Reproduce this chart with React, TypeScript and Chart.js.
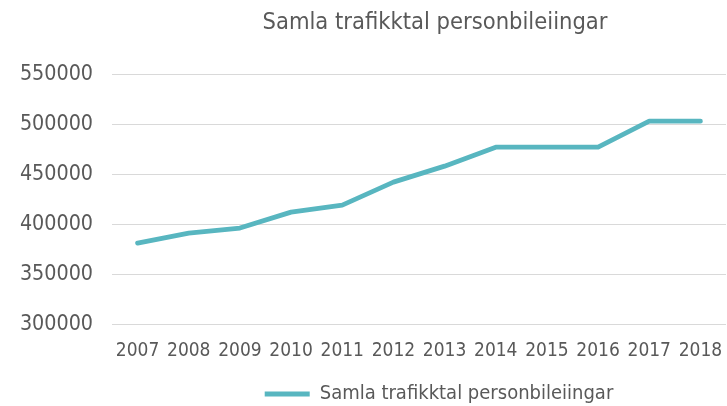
import React, { useEffect, useRef } from "react";
import { Chart, registerables } from "chart.js";

Chart.register(...registerables);

const years = ["2007", "2008", "2009", "2010", "2011", "2012", "2013", "2014", "2015", "2016", "2017", "2018"];
const trafficCounts = [381000, 391000, 396000, 412000, 419000, 442000, 458000, 477000, 477000, 477000, 503000, 503000];
const seriesLabel = "Samla trafikktal personbileiingar";
const chartTitle = "Samla trafikktal personbileiingar";

const FONT = "'DejaVu Sans Condensed', 'Liberation Sans Narrow', 'DejaVu Sans', sans-serif";
const TEXT = "#595959";
const LINE = "#58B6C0";

const shiftPlugin = {
  id: "shiftBoxes",
  afterLayout(chart: any) {
    const t = chart.titleBlock;
    if (t) {
      t.left += 72;
      t.right += 72;
    }
    const l = chart.legend;
    if (l) {
      l.left += 76;
      l.right += 76;
      l.top += 8;
      l.bottom += 8;
    }
  },
};

export default function App() {
  const ref = useRef<HTMLCanvasElement>(null);
  useEffect(() => {
    document.body.style.margin = "0";
    const chart = new Chart(ref.current!, {
      type: "line",
      data: {
        labels: years,
        datasets: [
          {
            label: seriesLabel,
            data: trafficCounts,
            borderColor: LINE,
            backgroundColor: LINE,
            borderWidth: 4.8,
            borderCapStyle: "round",
            borderJoinStyle: "round",
            pointRadius: 0,
            tension: 0,
          },
        ],
      },
      options: {
        responsive: false,
        animation: false,
        layout: { padding: { top: 9, left: 0, right: 1, bottom: 0 } },
        plugins: {
          title: {
            display: true,
            text: chartTitle,
            color: TEXT,
            font: { family: FONT, size: 23.5, weight: "normal" },
            padding: { top: 0, bottom: 37 },
          },
          legend: {
            position: "bottom",
            labels: {
              color: TEXT,
              font: { family: FONT, size: 20 },
              boxWidth: 45,
              boxHeight: 0,
              padding: 3,
              generateLabels: () => [
                {
                  text: seriesLabel,
                  fillStyle: LINE,
                  strokeStyle: LINE,
                  lineWidth: 4.8,
                  lineCap: "round",
                  fontColor: TEXT,
                  datasetIndex: 0,
                  hidden: false,
                },
              ],
            },
          },
          tooltip: { enabled: false },
        },
        scales: {
          x: {
            offset: true,
            grid: { display: false, drawTicks: false },
            border: { display: false },
            ticks: { color: TEXT, font: { family: FONT, size: 19 }, padding: 16, maxRotation: 0, autoSkip: false },
            afterFit: (s: any) => {
              s.paddingLeft = 0;
              s.paddingRight = 0;
              s.height = 49;
            },
          },
          y: {
            min: 300000,
            max: 550000,
            grid: { color: "#d9d9d9", lineWidth: 1, drawTicks: false },
            border: { display: false },
            ticks: {
              stepSize: 50000,
              color: TEXT,
              font: { family: FONT, size: 21.3 },
              padding: 19,
              callback: (v: any) => String(v),
            },
            afterFit: (s: any) => {
              s.width = 112;
            },
          },
        },
      },
      plugins: [shiftPlugin],
    });
    return () => chart.destroy();
  }, []);
  return (
    <div style={{ width: 727, height: 406 }}>
      <canvas ref={ref} width={727} height={406} style={{ display: "block" }} />
    </div>
  );
}
